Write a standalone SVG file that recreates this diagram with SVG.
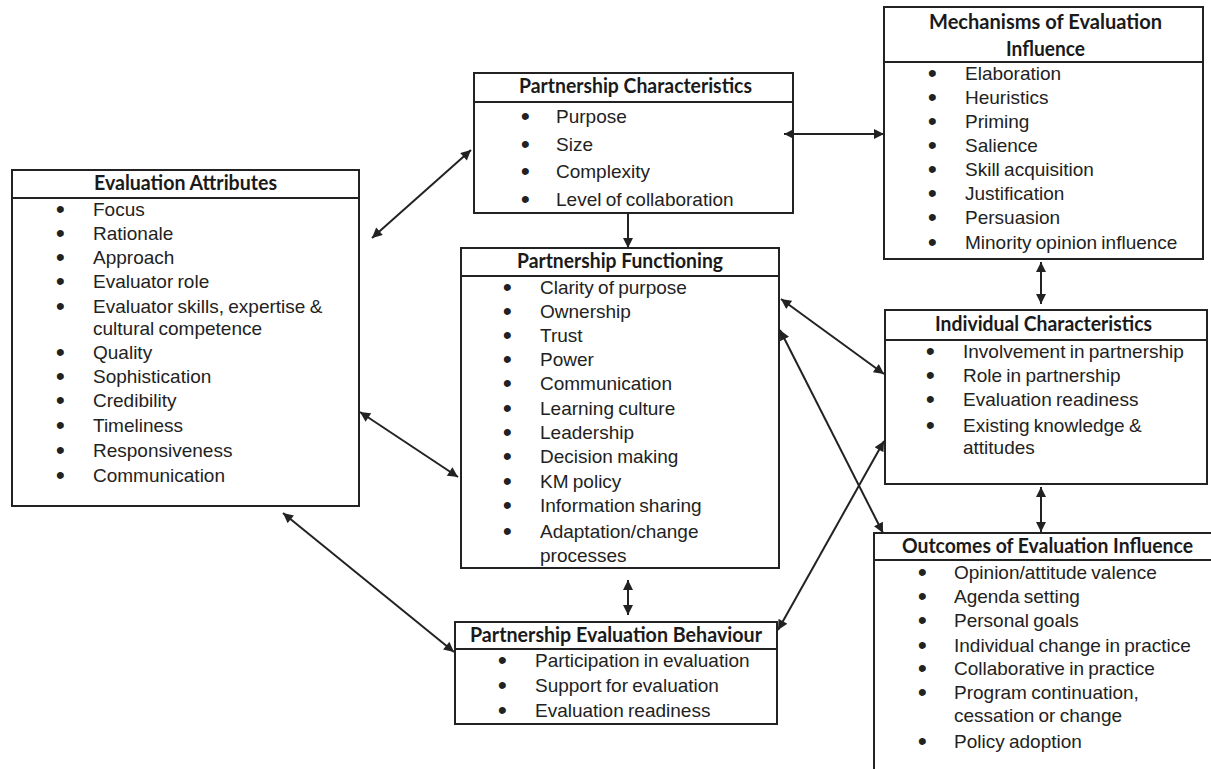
<svg xmlns="http://www.w3.org/2000/svg" width="1211" height="769" viewBox="0 0 1211 769">
<style>
  .box{fill:#fff;stroke:#222;stroke-width:2}
  .div{stroke:#222;stroke-width:2}
  .title{font-family:Lato,"Liberation Sans",sans-serif;font-weight:bold;font-size:20px;fill:#1a1a1a}
  .item text{font-family:"Liberation Sans",Arial,sans-serif;font-size:19px;fill:#222;word-spacing:-1px}
  .item text.b{stroke:#222;stroke-width:1.8px}
  .conn line{stroke:#222;stroke-width:2;fill:none}
</style>
<defs>
  <marker id="ah" viewBox="0 0 10 10" refX="10" refY="5" markerWidth="11" markerHeight="10" markerUnits="userSpaceOnUse" orient="auto-start-reverse">
    <path d="M0,0 L10,5 L0,10 z" fill="#222"/>
  </marker>
</defs>
<rect width="1211" height="769" fill="#fff"/>

<g id="evaluation-attributes">
  <rect class="box" x="12" y="170" width="347" height="336"/>
  <line class="div" x1="12" y1="198" x2="359" y2="198"/>
  <text class="title" x="94" y="190" textLength="183" lengthAdjust="spacingAndGlyphs">Evaluation Attributes</text>
  <g class="item">
    <text class="b" x="57" y="216">•</text><text x="93" y="216">Focus</text>
    <text class="b" x="57" y="240">•</text><text x="93" y="240">Rationale</text>
    <text class="b" x="57" y="264">•</text><text x="93" y="264">Approach</text>
    <text class="b" x="57" y="288">•</text><text x="93" y="288">Evaluator role</text>
    <text class="b" x="57" y="313">•</text><text x="93" y="313">Evaluator skills, expertise &amp;</text>
    <text x="93" y="335">cultural competence</text>
    <text class="b" x="57" y="359">•</text><text x="93" y="359">Quality</text>
    <text class="b" x="57" y="383">•</text><text x="93" y="383">Sophistication</text>
    <text class="b" x="57" y="407">•</text><text x="93" y="407">Credibility</text>
    <text class="b" x="57" y="432">•</text><text x="93" y="432">Timeliness</text>
    <text class="b" x="57" y="457">•</text><text x="93" y="457">Responsiveness</text>
    <text class="b" x="57" y="482">•</text><text x="93" y="482">Communication</text>
  </g>
</g>

<g id="partnership-characteristics">
  <rect class="box" x="474" y="73" width="319" height="140"/>
  <line class="div" x1="474" y1="102" x2="793" y2="102"/>
  <text class="title" x="519" y="93" textLength="233" lengthAdjust="spacingAndGlyphs">Partnership Characteristics</text>
  <g class="item">
    <text class="b" x="522" y="123">•</text><text x="556" y="123">Purpose</text>
    <text class="b" x="522" y="151">•</text><text x="556" y="151">Size</text>
    <text class="b" x="522" y="178">•</text><text x="556" y="178">Complexity</text>
    <text class="b" x="522" y="206">•</text><text x="556" y="206">Level of collaboration</text>
  </g>
</g>

<g id="mechanisms">
  <rect class="box" x="884" y="7" width="319" height="252"/>
  <line class="div" x1="884" y1="62" x2="1203" y2="62"/>
  <text class="title" x="929" y="29" textLength="233" lengthAdjust="spacingAndGlyphs">Mechanisms of Evaluation</text>
  <text class="title" x="1006" y="56" textLength="79" lengthAdjust="spacingAndGlyphs">Influence</text>
  <g class="item">
    <text class="b" x="929" y="80">•</text><text x="965" y="80">Elaboration</text>
    <text class="b" x="929" y="104">•</text><text x="965" y="104">Heuristics</text>
    <text class="b" x="929" y="128">•</text><text x="965" y="128">Priming</text>
    <text class="b" x="929" y="152">•</text><text x="965" y="152">Salience</text>
    <text class="b" x="929" y="176">•</text><text x="965" y="176">Skill acquisition</text>
    <text class="b" x="929" y="200">•</text><text x="965" y="200">Justification</text>
    <text class="b" x="929" y="224">•</text><text x="965" y="224">Persuasion</text>
    <text class="b" x="929" y="249">•</text><text x="965" y="249">Minority opinion influence</text>
  </g>
</g>

<g id="partnership-functioning">
  <rect class="box" x="461" y="248" width="318" height="320"/>
  <line class="div" x1="461" y1="276" x2="779" y2="276"/>
  <text class="title" x="517" y="268" textLength="206" lengthAdjust="spacingAndGlyphs">Partnership Functioning</text>
  <g class="item">
    <text class="b" x="504" y="294">•</text><text x="540" y="294">Clarity of purpose</text>
    <text class="b" x="504" y="318">•</text><text x="540" y="318">Ownership</text>
    <text class="b" x="504" y="342">•</text><text x="540" y="342">Trust</text>
    <text class="b" x="504" y="366">•</text><text x="540" y="366">Power</text>
    <text class="b" x="504" y="390">•</text><text x="540" y="390">Communication</text>
    <text class="b" x="504" y="415">•</text><text x="540" y="415">Learning culture</text>
    <text class="b" x="504" y="439">•</text><text x="540" y="439">Leadership</text>
    <text class="b" x="504" y="463">•</text><text x="540" y="463">Decision making</text>
    <text class="b" x="504" y="488">•</text><text x="540" y="488">KM policy</text>
    <text class="b" x="504" y="512">•</text><text x="540" y="512">Information sharing</text>
    <text class="b" x="504" y="538">•</text><text x="540" y="538">Adaptation/change</text>
    <text x="540" y="562">processes</text>
  </g>
</g>

<g id="individual-characteristics">
  <rect class="box" x="885" y="310" width="322" height="174"/>
  <line class="div" x1="885" y1="340" x2="1207" y2="340"/>
  <text class="title" x="935" y="331" textLength="217" lengthAdjust="spacingAndGlyphs">Individual Characteristics</text>
  <g class="item">
    <text class="b" x="927" y="358">•</text><text x="963" y="358">Involvement in partnership</text>
    <text class="b" x="927" y="382">•</text><text x="963" y="382">Role in partnership</text>
    <text class="b" x="927" y="406">•</text><text x="963" y="406">Evaluation readiness</text>
    <text class="b" x="927" y="432">•</text><text x="963" y="432">Existing knowledge &amp;</text>
    <text x="963" y="454">attitudes</text>
  </g>
</g>

<g id="outcomes">
  <rect class="box" x="874" y="533" width="345" height="250"/>
  <line class="div" x1="874" y1="560" x2="1211" y2="560"/>
  <text class="title" x="902" y="553" textLength="291" lengthAdjust="spacingAndGlyphs">Outcomes of Evaluation Influence</text>
  <g class="item">
    <text class="b" x="919" y="579">•</text><text x="954" y="579">Opinion/attitude valence</text>
    <text class="b" x="919" y="603">•</text><text x="954" y="603">Agenda setting</text>
    <text class="b" x="919" y="627">•</text><text x="954" y="627">Personal goals</text>
    <text class="b" x="919" y="652">•</text><text x="954" y="652">Individual change in practice</text>
    <text class="b" x="919" y="675">•</text><text x="954" y="675">Collaborative in practice</text>
    <text class="b" x="919" y="699">•</text><text x="954" y="699">Program continuation,</text>
    <text x="954" y="722">cessation or change</text>
    <text class="b" x="919" y="748">•</text><text x="954" y="748">Policy adoption</text>
  </g>
</g>

<g id="partnership-evaluation-behaviour">
  <rect class="box" x="455" y="622" width="322" height="102"/>
  <line class="div" x1="455" y1="649" x2="777" y2="649"/>
  <text class="title" x="470" y="642" textLength="292" lengthAdjust="spacingAndGlyphs">Partnership Evaluation Behaviour</text>
  <g class="item">
    <text class="b" x="499" y="667">•</text><text x="535" y="667">Participation in evaluation</text>
    <text class="b" x="499" y="692">•</text><text x="535" y="692">Support for evaluation</text>
    <text class="b" x="499" y="717">•</text><text x="535" y="717">Evaluation readiness</text>
  </g>
</g>

<g id="connectors" class="conn">
  <line x1="372" y1="238" x2="471" y2="150" marker-start="url(#ah)" marker-end="url(#ah)"/>
  <line x1="628" y1="213" x2="628" y2="248" marker-end="url(#ah)"/>
  <line x1="784" y1="134" x2="884" y2="134" marker-start="url(#ah)" marker-end="url(#ah)"/>
  <line x1="360" y1="412" x2="458" y2="477" marker-start="url(#ah)" marker-end="url(#ah)"/>
  <line x1="283" y1="513" x2="454" y2="652" marker-start="url(#ah)" marker-end="url(#ah)"/>
  <line x1="1041" y1="262" x2="1041" y2="304" marker-start="url(#ah)" marker-end="url(#ah)"/>
  <line x1="781" y1="299" x2="884" y2="374" marker-start="url(#ah)" marker-end="url(#ah)"/>
  <line x1="780" y1="330" x2="883" y2="533" marker-start="url(#ah)" marker-end="url(#ah)"/>
  <line x1="778" y1="630" x2="884" y2="441" marker-start="url(#ah)" marker-end="url(#ah)"/>
  <line x1="1041" y1="487" x2="1041" y2="532" marker-start="url(#ah)" marker-end="url(#ah)"/>
  <line x1="628" y1="580" x2="628" y2="615" marker-start="url(#ah)" marker-end="url(#ah)"/>
</g>
</svg>
